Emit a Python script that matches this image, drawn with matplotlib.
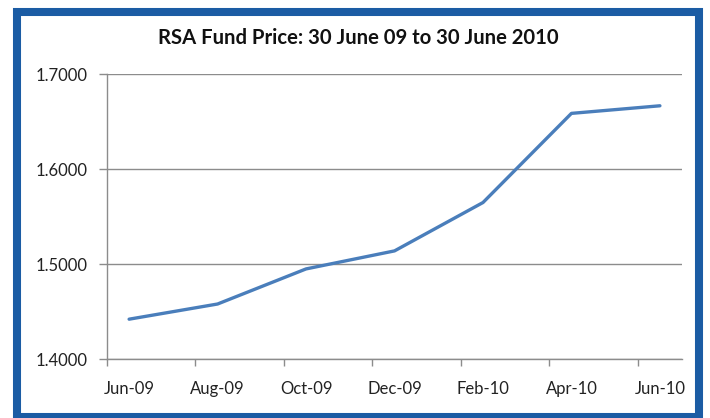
import matplotlib
matplotlib.use("Agg")
import matplotlib.pyplot as plt
from matplotlib.patches import Rectangle

# Data (months since Jun-09)
months = [0, 2, 4, 6, 8, 10, 12]
month_labels = ["Jun-09", "Aug-09", "Oct-09", "Dec-09", "Feb-10", "Apr-10", "Jun-10"]
prices = [1.442, 1.458, 1.495, 1.514, 1.565, 1.659, 1.667]
y_ticks = [1.4, 1.5, 1.6, 1.7]
title = "RSA Fund Price: 30 June 09 to 30 June 2010"

plt.rcParams['font.family'] = ['Lato', 'DejaVu Sans']

fig = plt.figure(figsize=(7.10, 4.18), dpi=100)
fig.patch.set_facecolor('white')

# blue frame
fig.patches.append(Rectangle((0.0246, 0.0024), 0.9845 - 0.0246, 0.9713 - 0.0024,
                             transform=fig.transFigure, fill=False,
                             edgecolor='#1B5CA4', linewidth=5.8, zorder=0))

ax = fig.add_axes([0.1507, 0.1411, 0.9606 - 0.1507, 0.8218 - 0.1411])
ax.plot(months, prices, color='#4A7EBB', linewidth=2.4, solid_capstyle='round',
        solid_joinstyle='round', zorder=3)

ax.set_xlim(-0.5, 12.5)
ax.set_ylim(1.4, 1.7)
ax.set_yticks(y_ticks)
ax.set_yticklabels([f"{v:.4f}" for v in y_ticks])
ax.grid(axis='y', color='#8C8C8C', linewidth=1.0)
ax.set_axisbelow(True)

# x: tick marks between categories, labels at data points
ax.set_xticks([m - 0.5 for m in months[:]] )
ax.set_xticklabels([])
ax.set_xticks(months, minor=True)
ax.set_xticklabels(month_labels, minor=True)
ax.tick_params(axis='x', which='major', length=5, width=1, color='#8C8C8C', direction='out')
ax.tick_params(axis='x', which='minor', length=0, pad=16, labelsize=12, labelcolor='#222222')
ax.tick_params(axis='y', length=6, width=1, color='#8C8C8C', pad=8, labelsize=12,
               labelcolor='#222222')

for s in ['top', 'right']:
    ax.spines[s].set_visible(False)
for s in ['left', 'bottom']:
    ax.spines[s].set_color('#8C8C8C')
    ax.spines[s].set_linewidth(1.0)

fig.text(0.505, 0.91, title, ha='center', va='center', fontsize=14.6,
         fontweight='bold', color='#111111')

fig.savefig('out.png', dpi=100, facecolor='white')
